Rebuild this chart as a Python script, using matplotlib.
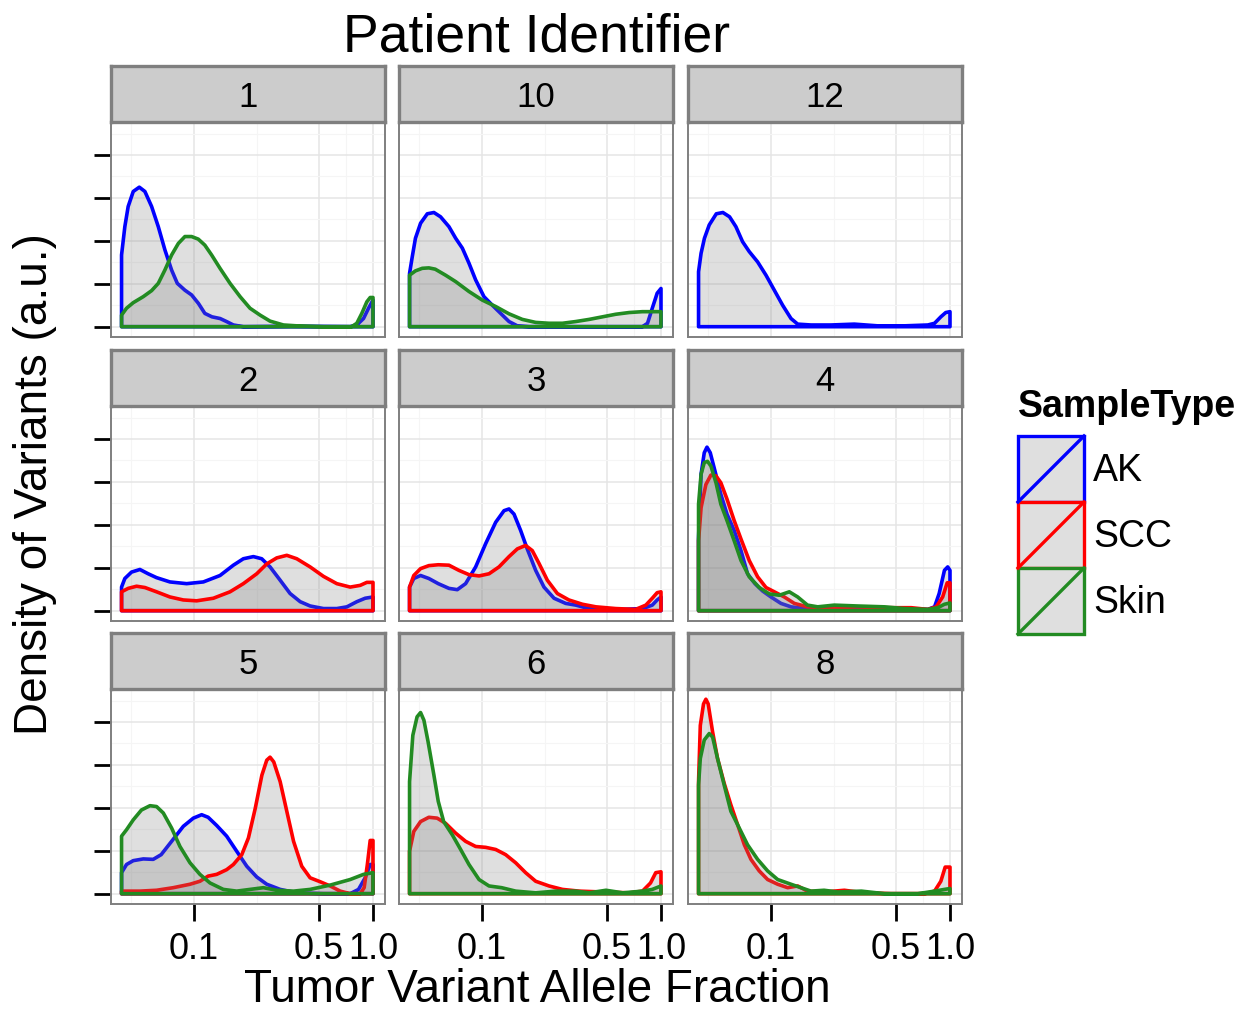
import matplotlib
matplotlib.use("Agg")
import matplotlib.pyplot as plt
from matplotlib.patches import Polygon, Rectangle
from matplotlib.lines import Line2D

plt.rcParams['font.family'] = ['Liberation Sans', 'DejaVu Sans']

# facet order and colours
patients = ['1', '10', '12', '2', '3', '4', '5', '6', '8']
sample_types = ['AK', 'SCC', 'Skin']
type_colors = {'AK': '#0000ff', 'SCC': '#ff0000', 'Skin': '#228b22'}

# density of tumour VAF per patient / sample type (x = VAF, y = density)
vaf_1_AK = [0.0394, 0.0411, 0.0429, 0.0458, 0.0495, 0.0532, 0.058, 0.0632, 0.0688, 0.075, 0.0807, 0.089,
            0.097, 0.106, 0.115, 0.126, 0.14, 0.152, 0.166, 0.189, 0.35, 0.746, 0.812, 0.885, 0.944, 1.0]
dens_1_AK = [1.67, 2.33, 2.80, 3.15, 3.25, 3.15, 2.80, 2.33, 1.79, 1.32, 1.01, 0.85,
             0.74, 0.54, 0.31, 0.23, 0.19, 0.12, 0.04, 0.0, 0.01, 0.0, 0.04, 0.19, 0.43, 0.62]
vaf_1_Skin = [0.0394, 0.042, 0.0458, 0.0521, 0.058, 0.0632, 0.0688, 0.075, 0.0818, 0.089, 0.097, 0.1057,
              0.115, 0.1255, 0.1398, 0.159, 0.181, 0.2056, 0.234, 0.266, 0.316, 0.375, 0.529, 0.76,
              0.8124, 0.866, 0.924, 0.9645, 1.0]
dens_1_Skin = [0.27, 0.43, 0.56, 0.70, 0.84, 1.01, 1.32, 1.67, 1.94, 2.10, 2.10, 2.04,
               1.90, 1.67, 1.36, 1.01, 0.70, 0.43, 0.27, 0.13, 0.04, 0.02, 0.0, 0.0,
               0.08, 0.31, 0.58, 0.68, 0.68]

vaf_10_AK = [0.0394, 0.0408, 0.0425, 0.0454, 0.0495, 0.0539, 0.0587, 0.0654, 0.0713, 0.0777, 0.0846, 0.0922,
             0.1026, 0.1143, 0.1272, 0.1416, 0.1576, 0.1834, 0.788, 0.841, 0.894, 0.952, 1.0]
dens_10_AK = [1.24, 1.63, 2.06, 2.41, 2.63, 2.66, 2.56, 2.33, 2.06, 1.83, 1.48, 1.09,
              0.70, 0.50, 0.31, 0.12, 0.02, 0.0, 0.0, 0.08, 0.43, 0.78, 0.89]
vaf_10_Skin = [0.0394, 0.0425, 0.0464, 0.0505, 0.0548, 0.0626, 0.0713, 0.0846, 0.1004, 0.1193, 0.1416, 0.168,
               0.1995, 0.237, 0.2815, 0.334, 0.397, 0.471, 0.559, 0.664, 0.788, 0.894, 1.0]
dens_10_Skin = [1.20, 1.30, 1.36, 1.37, 1.34, 1.20, 1.05, 0.82, 0.62, 0.47, 0.30, 0.17,
                0.10, 0.08, 0.08, 0.12, 0.17, 0.23, 0.29, 0.33, 0.35, 0.35, 0.35]

vaf_12_AK = [0.0394, 0.0407, 0.0425, 0.0452, 0.0495, 0.0539, 0.0587, 0.0637, 0.0694, 0.0756, 0.0842, 0.0938,
             0.1044, 0.1162, 0.1294, 0.141, 0.1673, 0.2165, 0.2922, 0.3945, 0.556, 0.752, 0.82, 0.889,
             0.947, 1.0]
dens_12_AK = [1.28, 1.71, 2.06, 2.37, 2.63, 2.66, 2.56, 2.33, 1.98, 1.75, 1.51, 1.20,
              0.85, 0.50, 0.19, 0.06, 0.04, 0.04, 0.06, 0.02, 0.02, 0.04, 0.08, 0.23,
              0.33, 0.35]

vaf_2_AK = [0.0394, 0.0411, 0.0448, 0.0499, 0.0555, 0.0618, 0.0734, 0.091, 0.1128, 0.1398, 0.166, 0.1887,
            0.2148, 0.239, 0.2661, 0.303, 0.3443, 0.392, 0.4454, 0.5289, 0.6279, 0.715, 0.8124, 0.904, 1.0]
dens_2_AK = [0.55, 0.75, 0.90, 0.96, 0.86, 0.77, 0.67, 0.63, 0.67, 0.82, 1.06, 1.21,
             1.26, 1.21, 1.02, 0.71, 0.40, 0.21, 0.11, 0.05, 0.05, 0.09, 0.21, 0.29, 0.32]
vaf_2_SCC = [0.0394, 0.0429, 0.0478, 0.0532, 0.0618, 0.0734, 0.0872, 0.1035, 0.1283, 0.159, 0.1887, 0.2241,
             0.255, 0.29, 0.330, 0.3752, 0.4454, 0.5289, 0.6279, 0.7456, 0.848, 0.924, 1.0]
dens_2_SCC = [0.44, 0.52, 0.57, 0.54, 0.44, 0.32, 0.25, 0.23, 0.29, 0.44, 0.63, 0.86,
              1.09, 1.23, 1.29, 1.21, 1.02, 0.80, 0.63, 0.55, 0.59, 0.66, 0.66]

vaf_3_AK = [0.0394, 0.0416, 0.0454, 0.0505, 0.057, 0.0654, 0.0728, 0.081, 0.0922, 0.1048, 0.1193, 0.1328,
            0.1416, 0.151, 0.1644, 0.179, 0.1995, 0.222, 0.2527, 0.2935, 0.334, 0.397, 0.471, 0.611,
            0.788, 0.894, 0.952, 1.0]
dens_3_AK = [0.55, 0.75, 0.82, 0.75, 0.63, 0.52, 0.49, 0.63, 1.02, 1.56, 2.06, 2.33,
             2.37, 2.25, 1.87, 1.44, 0.94, 0.55, 0.29, 0.17, 0.13, 0.05, 0.03, 0.03,
             0.05, 0.13, 0.25, 0.32]
vaf_3_SCC = [0.0394, 0.0416, 0.0454, 0.0505, 0.057, 0.0654, 0.0743, 0.0846, 0.0963, 0.1095, 0.1245, 0.1416,
             0.1576, 0.1753, 0.191, 0.2078, 0.2318, 0.2637, 0.3059, 0.364, 0.433, 0.559, 0.722, 0.823,
             0.894, 0.952, 1.0]
dens_3_SCC = [0.55, 0.82, 0.98, 1.05, 1.07, 1.06, 0.94, 0.84, 0.81, 0.86, 1.02, 1.26,
              1.44, 1.52, 1.40, 1.11, 0.71, 0.40, 0.25, 0.15, 0.09, 0.05, 0.03, 0.13,
              0.29, 0.42, 0.44]

vaf_4_AK = [0.0394, 0.0407, 0.0424, 0.0439, 0.0458, 0.0487, 0.0525, 0.0568, 0.0623, 0.068, 0.074, 0.0814,
            0.0897, 0.1, 0.1137, 0.1294, 0.154, 0.198, 0.28, 0.3945, 0.556, 0.752, 0.82, 0.87,
            0.931, 0.971, 1.0]
dens_4_AK = [1.71, 3.18, 3.68, 3.81, 3.68, 3.25, 2.71, 2.25, 1.87, 1.40, 0.86, 0.63,
             0.46, 0.32, 0.17, 0.09, 0.05, 0.07, 0.07, 0.05, 0.05, 0.03, 0.09, 0.40,
             0.94, 1.02, 0.94]
vaf_4_SCC = [0.0394, 0.0407, 0.0433, 0.0462, 0.0493, 0.0525, 0.0568, 0.0623, 0.068, 0.0756, 0.0842, 0.0938,
             0.1044, 0.1187, 0.135, 0.16, 0.2075, 0.3035, 0.431, 0.607, 0.752, 0.837, 0.91, 0.9645, 1.0]
dens_4_SCC = [1.63, 2.40, 2.94, 3.16, 3.14, 2.98, 2.60, 2.10, 1.67, 1.17, 0.79, 0.54,
              0.44, 0.32, 0.17, 0.09, 0.07, 0.09, 0.07, 0.07, 0.03, 0.09, 0.32, 0.65, 0.65]
vaf_4_Skin = [0.0394, 0.0407, 0.0424, 0.0442, 0.0462, 0.0493, 0.0525, 0.0568, 0.0623, 0.068, 0.0756, 0.086,
              0.0979, 0.1114, 0.1266, 0.141, 0.16, 0.1824, 0.2258, 0.3035, 0.431, 0.556, 0.752, 0.855,
              0.931, 1.0]
dens_4_Skin = [2.48, 3.18, 3.45, 3.48, 3.37, 2.98, 2.48, 2.10, 1.63, 1.17, 0.79, 0.54,
               0.39, 0.36, 0.44, 0.32, 0.13, 0.09, 0.13, 0.11, 0.09, 0.05, 0.03, 0.07,
               0.15, 0.18]

vaf_5_AK = [0.0394, 0.042, 0.0458, 0.0521, 0.0592, 0.0656, 0.075, 0.0872, 0.0992, 0.1104, 0.12, 0.1339,
            0.1523, 0.1732, 0.1972, 0.2241, 0.255, 0.303, 0.3752, 0.5289, 0.7456, 0.83, 0.904, 0.9645, 1.0]
dens_5_AK = [0.49, 0.68, 0.77, 0.81, 0.80, 0.91, 1.22, 1.57, 1.76, 1.84, 1.78, 1.59,
             1.34, 0.99, 0.64, 0.39, 0.22, 0.10, 0.02, 0.0, 0.0, 0.10, 0.37, 0.68, 0.68]
vaf_5_SCC = [0.0394, 0.0499, 0.0618, 0.0766, 0.095, 0.108, 0.12, 0.1339, 0.1523, 0.166, 0.185, 0.2015,
             0.22, 0.2395, 0.255, 0.2661, 0.279, 0.303, 0.33, 0.36, 0.4, 0.4454, 0.506, 0.5763,
             0.656, 0.7456, 0.848, 0.8926, 0.93, 0.9645, 1.0]
dens_5_SCC = [0.06, 0.06, 0.08, 0.14, 0.22, 0.29, 0.41, 0.45, 0.56, 0.68, 0.91, 1.30,
              1.99, 2.76, 3.11, 3.18, 3.07, 2.61, 1.92, 1.22, 0.64, 0.37, 0.28, 0.18,
              0.06, 0.0, 0.0, 0.14, 0.68, 1.24, 1.24]
vaf_5_Skin = [0.0394, 0.042, 0.0458, 0.0509, 0.0568, 0.0618, 0.0674, 0.075, 0.0835, 0.095, 0.108, 0.1229,
              0.1459, 0.1732, 0.2056, 0.2442, 0.29, 0.36, 0.4454, 0.5763, 0.7456, 0.8852, 1.0]
dens_5_Skin = [1.34, 1.49, 1.72, 1.95, 2.05, 2.03, 1.88, 1.53, 1.10, 0.72, 0.45, 0.25,
               0.10, 0.06, 0.10, 0.14, 0.08, 0.06, 0.10, 0.20, 0.33, 0.45, 0.49]

vaf_6_SCC = [0.0394, 0.0416, 0.0454, 0.0505, 0.0562, 0.0626, 0.0713, 0.081, 0.0922, 0.1048, 0.1193, 0.1356,
             0.1543, 0.1753, 0.1995, 0.237, 0.2815, 0.3485, 0.471, 0.664, 0.788, 0.874, 0.935, 1.0]
dens_6_SCC = [0.99, 1.45, 1.68, 1.78, 1.76, 1.64, 1.41, 1.22, 1.10, 1.08, 1.03, 0.91,
              0.72, 0.49, 0.29, 0.18, 0.10, 0.06, 0.04, 0.02, 0.06, 0.25, 0.49, 0.51]
vaf_6_Skin = [0.0394, 0.0411, 0.0434, 0.0454, 0.0474, 0.05, 0.0539, 0.057, 0.0611, 0.0683, 0.076, 0.0846,
              0.0963, 0.1095, 0.1288, 0.1543, 0.1995, 0.258, 0.334, 0.397, 0.493, 0.611, 0.788, 0.894, 1.0]
dens_6_Skin = [2.61, 3.69, 4.12, 4.22, 4.04, 3.54, 2.76, 2.15, 1.68, 1.37, 1.03, 0.68,
               0.33, 0.18, 0.14, 0.06, 0.02, 0.06, 0.06, 0.02, 0.08, 0.02, 0.06, 0.10, 0.18]

vaf_8_SCC = [0.0394, 0.0403, 0.042, 0.0433, 0.0446, 0.0472, 0.0503, 0.0548, 0.0597, 0.0651, 0.071, 0.0773,
             0.086, 0.0958, 0.109, 0.124, 0.141, 0.16, 0.198, 0.257, 0.333, 0.469, 0.725, 0.82,
             0.889, 0.94, 1.0]
dens_8_SCC = [2.61, 3.92, 4.42, 4.53, 4.42, 3.77, 3.15, 2.57, 2.07, 1.61, 1.14, 0.80,
              0.53, 0.33, 0.22, 0.14, 0.18, 0.06, 0.04, 0.08, 0.02, 0.0, 0.0, 0.06,
              0.29, 0.62, 0.62]
vaf_8_Skin = [0.0394, 0.0403, 0.0424, 0.0452, 0.0472, 0.0503, 0.0548, 0.0597, 0.0665, 0.074, 0.0842, 0.0958,
              0.109, 0.1294, 0.147, 0.1673, 0.198, 0.236, 0.32, 0.431, 0.66, 0.82, 0.931, 1.0]
dens_8_Skin = [2.53, 3.15, 3.58, 3.73, 3.65, 3.15, 2.53, 1.92, 1.53, 1.14, 0.80, 0.53,
               0.33, 0.22, 0.14, 0.06, 0.08, 0.04, 0.06, 0.0, 0.0, 0.06, 0.10, 0.12]

curves = {
    '1': [('AK', vaf_1_AK, dens_1_AK), ('Skin', vaf_1_Skin, dens_1_Skin)],
    '10': [('AK', vaf_10_AK, dens_10_AK), ('Skin', vaf_10_Skin, dens_10_Skin)],
    '12': [('AK', vaf_12_AK, dens_12_AK)],
    '2': [('AK', vaf_2_AK, dens_2_AK), ('SCC', vaf_2_SCC, dens_2_SCC)],
    '3': [('AK', vaf_3_AK, dens_3_AK), ('SCC', vaf_3_SCC, dens_3_SCC)],
    '4': [('AK', vaf_4_AK, dens_4_AK), ('SCC', vaf_4_SCC, dens_4_SCC), ('Skin', vaf_4_Skin, dens_4_Skin)],
    '5': [('AK', vaf_5_AK, dens_5_AK), ('SCC', vaf_5_SCC, dens_5_SCC), ('Skin', vaf_5_Skin, dens_5_Skin)],
    '6': [('SCC', vaf_6_SCC, dens_6_SCC), ('Skin', vaf_6_Skin, dens_6_Skin)],
    '8': [('SCC', vaf_8_SCC, dens_8_SCC), ('Skin', vaf_8_Skin, dens_8_Skin)],
}

x_major = [0.1, 0.5, 1.0]
x_major_labels = ['0.1', '0.5', '1.0']
x_minor = [0.0447, 0.2236, 0.7071]

W, H = 1257, 1015
fig = plt.figure(figsize=(W / 100, H / 100), dpi=100)

col_left = [111, 399, 688]
row_top = [123, 407, 690]
pw, ph = 274, 214
strip_h = 56
fill_rgba = (0.5, 0.5, 0.5, 0.25)
curve_lw = 2.6


def fig_rect(left, top, width, height):
    return [left / W, 1 - (top + height) / H, width / W, height / H]


for i, pid in enumerate(patients):
    r, c = divmod(i, 3)
    ax = fig.add_axes(fig_rect(col_left[c], row_top[r], pw, ph))
    ax.set_xscale('log')
    ax.set_xlim(0.0344, 1.167)
    ax.set_ylim(-0.24, 4.745)
    ax.set_xticks(x_major)
    ax.set_xticks(x_minor, minor=True)
    ax.set_yticks([0, 1, 2, 3, 4])
    ax.set_yticks([0.5, 1.5, 2.5, 3.5, 4.5], minor=True)
    ax.set_yticklabels([])
    ax.set_xticklabels(x_major_labels if r == 2 else [])
    ax.grid(which='major', color='#e5e5e5', lw=1.1)
    ax.grid(which='minor', color='#f5f5f5', lw=0.8)
    ax.set_axisbelow(True)
    ax.tick_params(which='minor', length=0)
    ax.tick_params(axis='x', which='major', length=12 if r == 2 else 0, width=2,
                   color='black', labelsize=26, pad=8)
    ax.tick_params(axis='y', which='major', length=12 if c == 0 else 0, width=2,
                   color='black')
    for s in ax.spines.values():
        s.set_color('#7f7f7f')
        s.set_linewidth(1.4)

    for stype, xs, ys in curves[pid]:
        pts = list(zip(xs, ys)) + [(xs[-1], 0.0), (xs[0], 0.0)]
        ax.add_patch(Polygon(pts, closed=True, facecolor=fill_rgba,
                             edgecolor=type_colors[stype], lw=curve_lw, joinstyle='round'))

    # facet strip
    sax = fig.add_axes(fig_rect(col_left[c], row_top[r] - strip_h - 1, pw, strip_h))
    sax.set_facecolor('#cccccc')
    sax.set_xticks([])
    sax.set_yticks([])
    for s in sax.spines.values():
        s.set_color('#7f7f7f')
        s.set_linewidth(2.4)
    sax.text(0.5, 0.43, pid, ha='center', va='center', fontsize=25, transform=sax.transAxes)

fig.text(537 / W, 1 - 37 / H, 'Patient Identifier', ha='center', va='center', fontsize=38.5)
fig.text(537 / W, 1 - 990 / H, 'Tumor Variant Allele Fraction', ha='center', va='center', fontsize=33)
fig.text(35 / W, 1 - 484 / H, 'Density of Variants (a.u.)', ha='center', va='center',
         rotation=90, fontsize=33)

# legend
lax = fig.add_axes([0, 0, 1, 1], facecolor='none')
lax.set_xlim(0, W)
lax.set_ylim(H, 0)
lax.axis('off')
lax.text(1018, 407, 'SampleType', ha='left', va='center', fontsize=27, fontweight='bold')
key_top, key_h = 436, 66
for k, stype in enumerate(sample_types):
    y0 = key_top + k * key_h
    col = type_colors[stype]
    lax.add_patch(Rectangle((1018, y0), 66, key_h, facecolor='#dfdfdf', edgecolor=col, lw=2.4))
    lax.add_line(Line2D([1018, 1084], [y0 + key_h, y0], color=col, lw=2.4))
    lax.text(1093, y0 + key_h / 2 + 2, stype, ha='left', va='center', fontsize=27)

fig.savefig('out.png', dpi=100)
